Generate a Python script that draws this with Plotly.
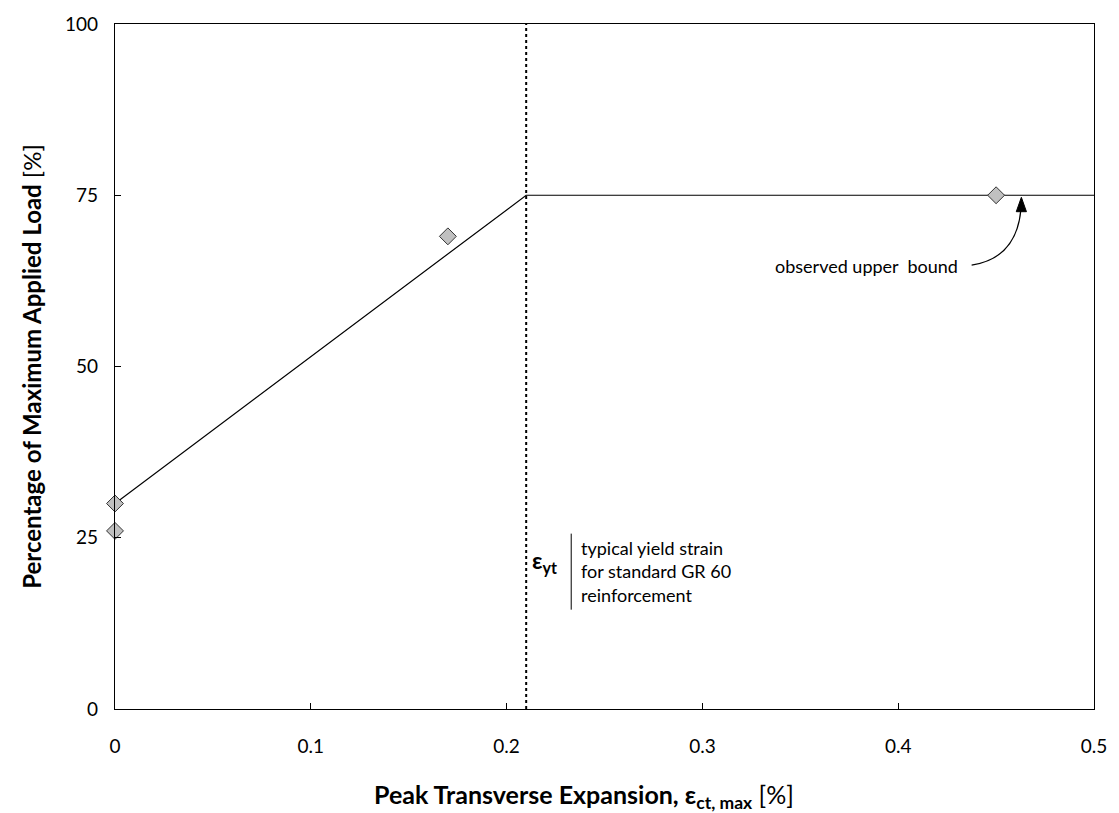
import plotly.graph_objects as go

# observed points
obs_x = [0.0, 0.0, 0.17, 0.45]
obs_y = [30, 26, 69, 75]

# bilinear trend line
trend_x = [0.0, 0.21, 0.5]
trend_y = [30, 75, 75]

eps_yt = 0.21

font = "Lato, 'Open Sans', sans-serif"

fig = go.Figure()
fig.add_trace(go.Scatter(x=trend_x, y=trend_y, mode="lines",
                         line=dict(color="black", width=1.2), showlegend=False))
fig.add_trace(go.Scatter(x=obs_x, y=obs_y, mode="markers",
                         marker=dict(symbol="diamond", size=13, color="#c0c0c0",
                                     line=dict(color="#333333", width=1)),
                         showlegend=False, cliponaxis=False))

# yield strain marker
fig.add_shape(type="line", x0=eps_yt, x1=eps_yt, y0=0, y1=100, xref="x", yref="y",
              line=dict(color="black", width=2, dash="dot"))
fig.add_annotation(x=0.2118, y=21.6, xref="x", yref="y", showarrow=False,
                   text="<b>ε<sub>yt</sub></b>", font=dict(size=23, color="black"),
                   xanchor="left")
fig.add_shape(type="line", x0=0.233, x1=0.233, y0=14.5, y1=25.6, xref="x", yref="y",
              line=dict(color="black", width=1))
fig.add_annotation(x=0.2372, y=20.1, xref="x", yref="y", showarrow=False, align="left",
                   xanchor="left", yanchor="middle",
                   text="typical yield strain<br>for standard GR 60<br>reinforcement",
                   font=dict(size=18, color="black"))

# observed upper bound callout
fig.add_annotation(x=0.4318, y=64.7, xref="x", yref="y", showarrow=False,
                   xanchor="right", text="observed upper  bound",
                   font=dict(size=18, color="black"))
fig.add_shape(type="path", xref="x", yref="y",
              path="M 0.4375 64.8 Q 0.4605 65.8 0.4627 73.0",
              line=dict(color="black", width=1.2))
fig.add_shape(type="path", xref="x", yref="y",
              path="M 0.4629 74.7 L 0.4603 72.6 L 0.4655 72.6 Z",
              fillcolor="black", line=dict(color="black", width=1))

# x axis title (sits a little left of centre in the original)
fig.add_annotation(x=0.479, y=-0.127, xref="paper", yref="paper", showarrow=False,
                   xanchor="center", yanchor="middle",
                   text="<b>Peak Transverse Expansion, ε<sub>ct, max</sub></b> [%]",
                   font=dict(size=25, color="black"))

fig.update_xaxes(range=[0, 0.5], tickvals=[0, 0.1, 0.2, 0.3, 0.4, 0.5],
                 ticktext=["0", "0.1", "0.2", "0.3", "0.4", "0.5"],
                 ticks="inside", ticklen=6, tickcolor="black",
                 showline=True, linecolor="black", linewidth=1.2, mirror=True,
                 showgrid=False, zeroline=False, ticklabelstandoff=20)
fig.update_yaxes(range=[0, 100], tickvals=[0, 25, 50, 75, 100],
                 ticks="inside", ticklen=6, tickcolor="black",
                 showline=True, linecolor="black", linewidth=1.2, mirror=True,
                 showgrid=False, zeroline=False, ticklabelstandoff=12,
                 title=dict(text="<b>Percentage of Maximum Applied Load</b> [%]",
                            font=dict(size=24, color="black"), standoff=16))

fig.update_layout(width=1119, height=813, plot_bgcolor="white", paper_bgcolor="white",
                  margin=dict(l=115, r=21, t=18, b=104),
                  font=dict(family=font, size=19, color="black"))

fig.write_html("out.html", config={"displayModeBar": False},
               post_script="document.body.style.margin='0';")
